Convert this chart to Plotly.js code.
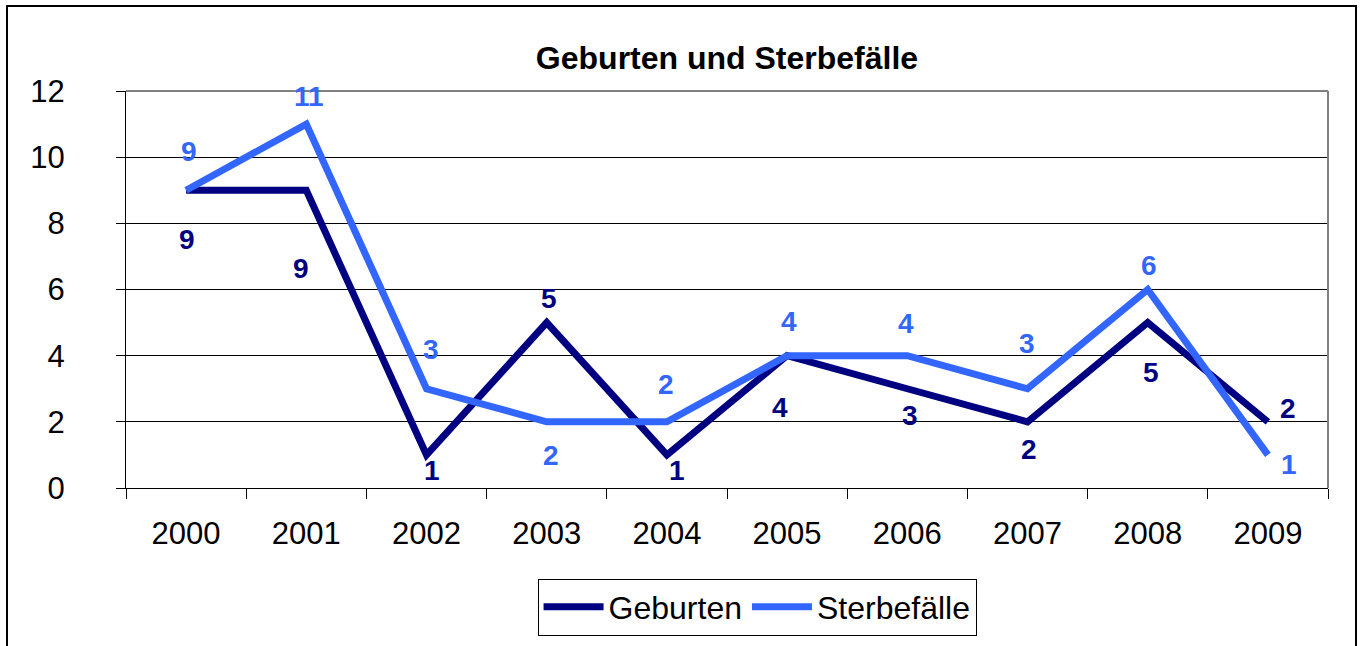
<!DOCTYPE html>
<html>
<head>
<meta charset="utf-8">
<script src="https://cdn.plot.ly/plotly-3.0.1.min.js"></script>
<style>
  html, body { margin: 0; padding: 0; background: #fff; overflow: hidden; }
  #chart { width: 1364px; height: 646px; position: absolute; left: 0; top: 0; }
  #frame { position: absolute; left: 6px; top: 5px; width: 1351px; height: 700px;
           border: 2px solid #000; pointer-events: none; box-sizing: border-box; }
</style>
</head>
<body>
<div id="chart"></div>
<div id="frame"></div>
<script>
// ---- data ----
const years = ["2000","2001","2002","2003","2004","2005","2006","2007","2008","2009"];
const geburten = [9, 9, 1, 5, 1, 4, 3, 2, 5, 2];
const sterbefaelle = [9, 11, 3, 2, 2, 4, 4, 3, 6, 1];
const seriesNames = ["Geburten", "Sterbefälle"];
const chartTitle = "Geburten und Sterbefälle";
const yTicks = [0, 2, 4, 6, 8, 10, 12];

// ---- label offsets (pixels, dx right / dy down) ----
const gebOffX = [1, -5, 5, 2, 10, -7, 3, 1, 3, 20];
const gebOffY = [49, 78, 16, -24, 16, 52, 27, 28, 50, -13];
const stbOffX = [3, 3, 4, 4, -1, 2, -1, -1, 1, 21];
const stbOffY = [-39, -28, -39, 34, -37, -34, -32, -45, -24, 10];

const colGeb = "#000080";
const colStb = "#3366FF";
const FONT = "Arial, 'Liberation Sans', Helvetica, sans-serif";

const traces = [
  { x: years, y: geburten, name: seriesNames[0], type: "scatter", mode: "lines",
    line: { color: colGeb, width: 7 }, hoverinfo: "skip" },
  { x: years, y: sterbefaelle, name: seriesNames[1], type: "scatter", mode: "lines",
    line: { color: colStb, width: 7 }, hoverinfo: "skip" }
];

const annotations = [];
for (let i = 0; i < years.length; i++) {
  annotations.push({ x: i, y: geburten[i], xref: "x", yref: "y",
    text: "<b>" + geburten[i] + "</b>",
    showarrow: true, arrowcolor: "rgba(0,0,0,0)", arrowwidth: 0.1, standoff: 0,
    ax: gebOffX[i], ay: gebOffY[i], axref: "pixel", ayref: "pixel",
    font: { family: FONT, size: 28, color: colGeb } });
  annotations.push({ x: i, y: sterbefaelle[i], xref: "x", yref: "y",
    text: "<b>" + sterbefaelle[i] + "</b>",
    showarrow: true, arrowcolor: "rgba(0,0,0,0)", arrowwidth: 0.1, standoff: 0,
    ax: stbOffX[i], ay: stbOffY[i], axref: "pixel", ayref: "pixel",
    font: { family: FONT, size: 28, color: colStb } });
}

const layout = {
  width: 1364, height: 646,
  margin: { l: 126, r: 36, t: 91, b: 157, pad: 0 },
  paper_bgcolor: "#fff", plot_bgcolor: "#fff",
  font: { family: FONT, color: "#000", size: 31 },
  title: { text: "<b>" + chartTitle + "</b>", font: { family: FONT, size: 32, color: "#000" },
           x: 0.5, xanchor: "center", y: 0.91, yanchor: "middle", xref: "paper" },
  showlegend: true,
  legend: { orientation: "h", x: 0.525, xanchor: "center", y: -0.225, yanchor: "top",
            bordercolor: "#000", borderwidth: 1, bgcolor: "#fff",
            font: { family: FONT, size: 32, color: "#000" }, itemwidth: 60,
            traceorder: "normal" },
  xaxis: { type: "category", range: [-0.5, 9.5], tickson: "boundaries",
           ticks: "outside", ticklen: 10, tickcolor: "#000", tickwidth: 1,
           showline: true, linecolor: "#000", linewidth: 1,
           showgrid: false, zeroline: false, fixedrange: true,
           tickfont: { family: FONT, size: 31, color: "#000" }, ticklabelstandoff: 18 },
  yaxis: { range: [0, 12], tickvals: yTicks, ticks: "outside", ticklen: 9,
           tickcolor: "#000", tickwidth: 1, showline: true, linecolor: "#000", linewidth: 1,
           showgrid: true, gridcolor: "#000", gridwidth: 1, zeroline: false, fixedrange: true,
           tickfont: { family: FONT, size: 31, color: "#000" }, ticklabelstandoff: 45 },
  shapes: [
    { type: "line", xref: "paper", yref: "paper", x0: 0, x1: 1, y0: 1, y1: 1,
      line: { color: "#808080", width: 2 } },
    { type: "line", xref: "paper", yref: "paper", x0: 1, x1: 1, y0: 0, y1: 1,
      line: { color: "#808080", width: 2 } }
  ],
  annotations: annotations
};

Plotly.newPlot("chart", traces, layout, { staticPlot: true, displayModeBar: false });
</script>
</body>
</html>
